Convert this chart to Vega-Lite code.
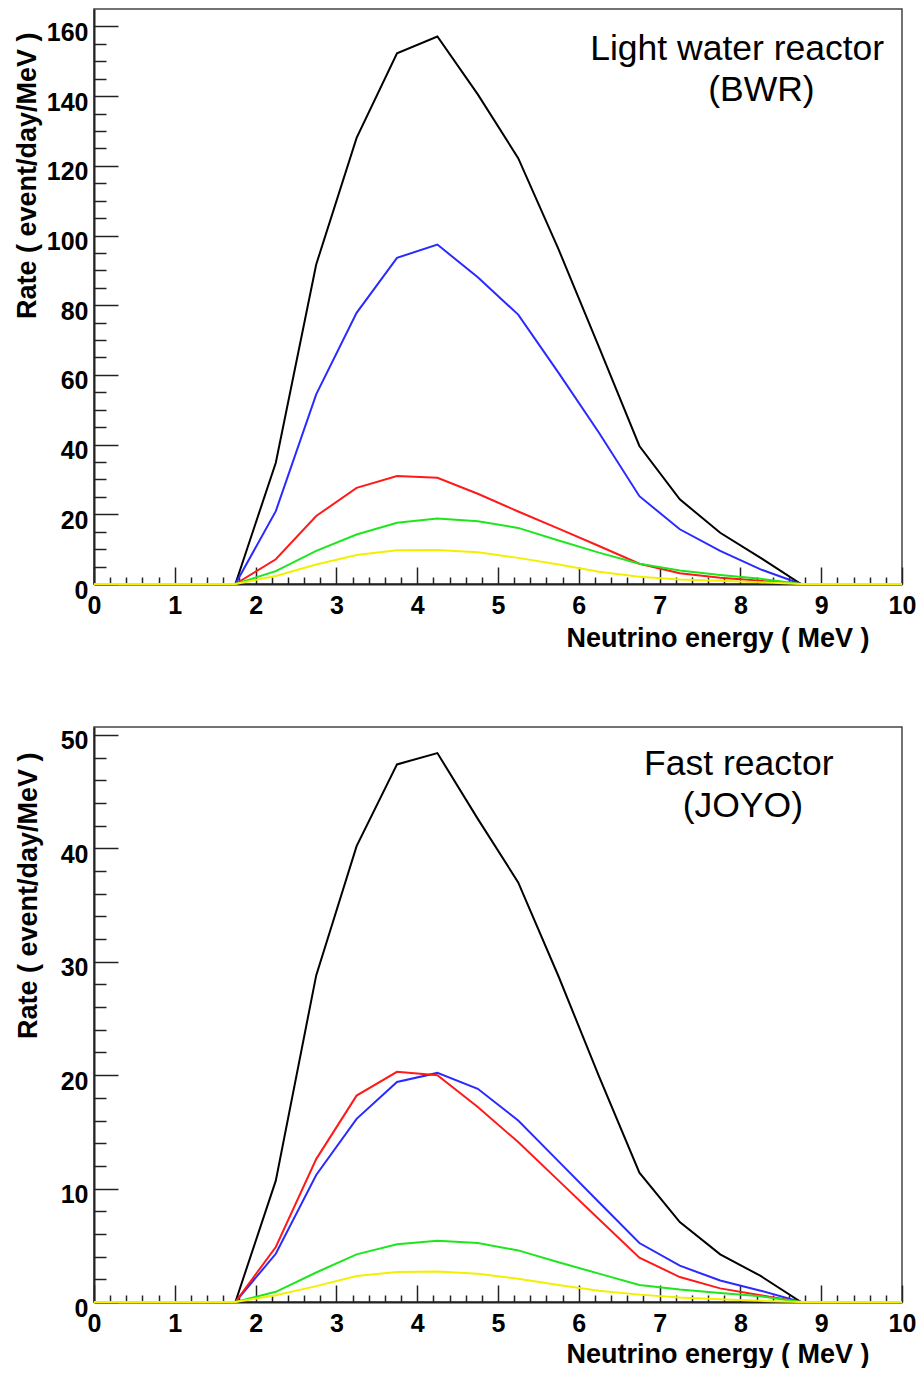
{
  "$schema": "https://vega.github.io/schema/vega-lite/v6.json",
  "background": "white",
  "padding": {"left": 12, "top": 8, "right": 5, "bottom": 0},
  "spacing": 74,
  "config": {
    "view": {"stroke": "#444", "strokeWidth": 1.5},
    "font": "Liberation Sans",
    "axis": {"grid": false}
  },
  "datasets": {
    "rates": [
      {"reactor":"BWR","series":"Total","energy":0,"rate":0},
      {"reactor":"BWR","series":"Total","energy":1.75,"rate":0},
      {"reactor":"BWR","series":"Total","energy":2.25,"rate":34.8},
      {"reactor":"BWR","series":"Total","energy":2.75,"rate":91.7},
      {"reactor":"BWR","series":"Total","energy":3.25,"rate":128},
      {"reactor":"BWR","series":"Total","energy":3.75,"rate":152.3},
      {"reactor":"BWR","series":"Total","energy":4.25,"rate":157.1},
      {"reactor":"BWR","series":"Total","energy":4.75,"rate":140.5},
      {"reactor":"BWR","series":"Total","energy":5.25,"rate":122.2},
      {"reactor":"BWR","series":"Total","energy":5.75,"rate":96},
      {"reactor":"BWR","series":"Total","energy":6.25,"rate":68},
      {"reactor":"BWR","series":"Total","energy":6.75,"rate":39.6},
      {"reactor":"BWR","series":"Total","energy":7.25,"rate":24.3},
      {"reactor":"BWR","series":"Total","energy":7.75,"rate":14.7},
      {"reactor":"BWR","series":"Total","energy":8.25,"rate":7.5},
      {"reactor":"BWR","series":"Total","energy":8.75,"rate":0},
      {"reactor":"BWR","series":"Total","energy":10,"rate":0},
      {"reactor":"BWR","series":"U-235","energy":0,"rate":0},
      {"reactor":"BWR","series":"U-235","energy":1.75,"rate":0},
      {"reactor":"BWR","series":"U-235","energy":2.25,"rate":20.9},
      {"reactor":"BWR","series":"U-235","energy":2.75,"rate":54.4},
      {"reactor":"BWR","series":"U-235","energy":3.25,"rate":77.8},
      {"reactor":"BWR","series":"U-235","energy":3.75,"rate":93.6},
      {"reactor":"BWR","series":"U-235","energy":4.25,"rate":97.4},
      {"reactor":"BWR","series":"U-235","energy":4.75,"rate":88},
      {"reactor":"BWR","series":"U-235","energy":5.25,"rate":77.3},
      {"reactor":"BWR","series":"U-235","energy":5.75,"rate":60.6},
      {"reactor":"BWR","series":"U-235","energy":6.25,"rate":43.4},
      {"reactor":"BWR","series":"U-235","energy":6.75,"rate":25.2},
      {"reactor":"BWR","series":"U-235","energy":7.25,"rate":15.7},
      {"reactor":"BWR","series":"U-235","energy":7.75,"rate":9.5},
      {"reactor":"BWR","series":"U-235","energy":8.25,"rate":4.2},
      {"reactor":"BWR","series":"U-235","energy":8.75,"rate":0},
      {"reactor":"BWR","series":"U-235","energy":10,"rate":0},
      {"reactor":"BWR","series":"Pu-239","energy":0,"rate":0},
      {"reactor":"BWR","series":"Pu-239","energy":1.75,"rate":0},
      {"reactor":"BWR","series":"Pu-239","energy":2.25,"rate":7.1},
      {"reactor":"BWR","series":"Pu-239","energy":2.75,"rate":19.5},
      {"reactor":"BWR","series":"Pu-239","energy":3.25,"rate":27.6},
      {"reactor":"BWR","series":"Pu-239","energy":3.75,"rate":31.0},
      {"reactor":"BWR","series":"Pu-239","energy":4.25,"rate":30.5},
      {"reactor":"BWR","series":"Pu-239","energy":4.75,"rate":25.9},
      {"reactor":"BWR","series":"Pu-239","energy":5.25,"rate":20.8},
      {"reactor":"BWR","series":"Pu-239","energy":5.75,"rate":15.9},
      {"reactor":"BWR","series":"Pu-239","energy":6.25,"rate":10.9},
      {"reactor":"BWR","series":"Pu-239","energy":6.75,"rate":5.8},
      {"reactor":"BWR","series":"Pu-239","energy":7.25,"rate":3.1},
      {"reactor":"BWR","series":"Pu-239","energy":7.75,"rate":1.8},
      {"reactor":"BWR","series":"Pu-239","energy":8.25,"rate":0.9},
      {"reactor":"BWR","series":"Pu-239","energy":8.75,"rate":0},
      {"reactor":"BWR","series":"Pu-239","energy":10,"rate":0},
      {"reactor":"BWR","series":"U-238","energy":0,"rate":0},
      {"reactor":"BWR","series":"U-238","energy":1.75,"rate":0},
      {"reactor":"BWR","series":"U-238","energy":2.25,"rate":3.7},
      {"reactor":"BWR","series":"U-238","energy":2.75,"rate":9.5},
      {"reactor":"BWR","series":"U-238","energy":3.25,"rate":14.2},
      {"reactor":"BWR","series":"U-238","energy":3.75,"rate":17.6},
      {"reactor":"BWR","series":"U-238","energy":4.25,"rate":18.8},
      {"reactor":"BWR","series":"U-238","energy":4.75,"rate":18.0},
      {"reactor":"BWR","series":"U-238","energy":5.25,"rate":16.1},
      {"reactor":"BWR","series":"U-238","energy":5.75,"rate":12.5},
      {"reactor":"BWR","series":"U-238","energy":6.25,"rate":9.0},
      {"reactor":"BWR","series":"U-238","energy":6.75,"rate":5.8},
      {"reactor":"BWR","series":"U-238","energy":7.25,"rate":3.9},
      {"reactor":"BWR","series":"U-238","energy":7.75,"rate":2.6},
      {"reactor":"BWR","series":"U-238","energy":8.25,"rate":1.5},
      {"reactor":"BWR","series":"U-238","energy":8.75,"rate":0},
      {"reactor":"BWR","series":"U-238","energy":10,"rate":0},
      {"reactor":"BWR","series":"Pu-241","energy":0,"rate":0},
      {"reactor":"BWR","series":"Pu-241","energy":1.75,"rate":0},
      {"reactor":"BWR","series":"Pu-241","energy":2.25,"rate":2.3},
      {"reactor":"BWR","series":"Pu-241","energy":2.75,"rate":5.6},
      {"reactor":"BWR","series":"Pu-241","energy":3.25,"rate":8.3},
      {"reactor":"BWR","series":"Pu-241","energy":3.75,"rate":9.7},
      {"reactor":"BWR","series":"Pu-241","energy":4.25,"rate":9.75},
      {"reactor":"BWR","series":"Pu-241","energy":4.75,"rate":9.1},
      {"reactor":"BWR","series":"Pu-241","energy":5.25,"rate":7.5},
      {"reactor":"BWR","series":"Pu-241","energy":5.75,"rate":5.6},
      {"reactor":"BWR","series":"Pu-241","energy":6.25,"rate":3.5},
      {"reactor":"BWR","series":"Pu-241","energy":6.75,"rate":2.1},
      {"reactor":"BWR","series":"Pu-241","energy":7.25,"rate":1.3},
      {"reactor":"BWR","series":"Pu-241","energy":7.75,"rate":0.9},
      {"reactor":"BWR","series":"Pu-241","energy":8.25,"rate":0.5},
      {"reactor":"BWR","series":"Pu-241","energy":8.75,"rate":0},
      {"reactor":"BWR","series":"Pu-241","energy":10,"rate":0},
      {"reactor":"JOYO","series":"Total","energy":0,"rate":0},
      {"reactor":"JOYO","series":"Total","energy":1.75,"rate":0},
      {"reactor":"JOYO","series":"Total","energy":2.25,"rate":10.7},
      {"reactor":"JOYO","series":"Total","energy":2.75,"rate":28.8},
      {"reactor":"JOYO","series":"Total","energy":3.25,"rate":40.2},
      {"reactor":"JOYO","series":"Total","energy":3.75,"rate":47.4},
      {"reactor":"JOYO","series":"Total","energy":4.25,"rate":48.4},
      {"reactor":"JOYO","series":"Total","energy":4.75,"rate":42.6},
      {"reactor":"JOYO","series":"Total","energy":5.25,"rate":37.0},
      {"reactor":"JOYO","series":"Total","energy":5.75,"rate":28.7},
      {"reactor":"JOYO","series":"Total","energy":6.25,"rate":19.9},
      {"reactor":"JOYO","series":"Total","energy":6.75,"rate":11.4},
      {"reactor":"JOYO","series":"Total","energy":7.25,"rate":7.05},
      {"reactor":"JOYO","series":"Total","energy":7.75,"rate":4.2},
      {"reactor":"JOYO","series":"Total","energy":8.25,"rate":2.3},
      {"reactor":"JOYO","series":"Total","energy":8.75,"rate":0},
      {"reactor":"JOYO","series":"Total","energy":10,"rate":0},
      {"reactor":"JOYO","series":"U-235","energy":0,"rate":0},
      {"reactor":"JOYO","series":"U-235","energy":1.75,"rate":0},
      {"reactor":"JOYO","series":"U-235","energy":2.25,"rate":4.25},
      {"reactor":"JOYO","series":"U-235","energy":2.75,"rate":11.2},
      {"reactor":"JOYO","series":"U-235","energy":3.25,"rate":16.15},
      {"reactor":"JOYO","series":"U-235","energy":3.75,"rate":19.4},
      {"reactor":"JOYO","series":"U-235","energy":4.25,"rate":20.2},
      {"reactor":"JOYO","series":"U-235","energy":4.75,"rate":18.8},
      {"reactor":"JOYO","series":"U-235","energy":5.25,"rate":16.0},
      {"reactor":"JOYO","series":"U-235","energy":5.75,"rate":12.4},
      {"reactor":"JOYO","series":"U-235","energy":6.25,"rate":8.8},
      {"reactor":"JOYO","series":"U-235","energy":6.75,"rate":5.2},
      {"reactor":"JOYO","series":"U-235","energy":7.25,"rate":3.2},
      {"reactor":"JOYO","series":"U-235","energy":7.75,"rate":1.9},
      {"reactor":"JOYO","series":"U-235","energy":8.25,"rate":1.0},
      {"reactor":"JOYO","series":"U-235","energy":8.75,"rate":0},
      {"reactor":"JOYO","series":"U-235","energy":10,"rate":0},
      {"reactor":"JOYO","series":"Pu-239","energy":0,"rate":0},
      {"reactor":"JOYO","series":"Pu-239","energy":1.75,"rate":0},
      {"reactor":"JOYO","series":"Pu-239","energy":2.25,"rate":4.85},
      {"reactor":"JOYO","series":"Pu-239","energy":2.75,"rate":12.6},
      {"reactor":"JOYO","series":"Pu-239","energy":3.25,"rate":18.2},
      {"reactor":"JOYO","series":"Pu-239","energy":3.75,"rate":20.3},
      {"reactor":"JOYO","series":"Pu-239","energy":4.25,"rate":20.0},
      {"reactor":"JOYO","series":"Pu-239","energy":4.75,"rate":17.2},
      {"reactor":"JOYO","series":"Pu-239","energy":5.25,"rate":14.1},
      {"reactor":"JOYO","series":"Pu-239","energy":5.75,"rate":10.7},
      {"reactor":"JOYO","series":"Pu-239","energy":6.25,"rate":7.3},
      {"reactor":"JOYO","series":"Pu-239","energy":6.75,"rate":3.9},
      {"reactor":"JOYO","series":"Pu-239","energy":7.25,"rate":2.2},
      {"reactor":"JOYO","series":"Pu-239","energy":7.75,"rate":1.2},
      {"reactor":"JOYO","series":"Pu-239","energy":8.25,"rate":0.6},
      {"reactor":"JOYO","series":"Pu-239","energy":8.75,"rate":0},
      {"reactor":"JOYO","series":"Pu-239","energy":10,"rate":0},
      {"reactor":"JOYO","series":"U-238","energy":0,"rate":0},
      {"reactor":"JOYO","series":"U-238","energy":1.75,"rate":0},
      {"reactor":"JOYO","series":"U-238","energy":2.25,"rate":0.9},
      {"reactor":"JOYO","series":"U-238","energy":2.75,"rate":2.6},
      {"reactor":"JOYO","series":"U-238","energy":3.25,"rate":4.2},
      {"reactor":"JOYO","series":"U-238","energy":3.75,"rate":5.1},
      {"reactor":"JOYO","series":"U-238","energy":4.25,"rate":5.4},
      {"reactor":"JOYO","series":"U-238","energy":4.75,"rate":5.2},
      {"reactor":"JOYO","series":"U-238","energy":5.25,"rate":4.55},
      {"reactor":"JOYO","series":"U-238","energy":5.75,"rate":3.5},
      {"reactor":"JOYO","series":"U-238","energy":6.25,"rate":2.5},
      {"reactor":"JOYO","series":"U-238","energy":6.75,"rate":1.5},
      {"reactor":"JOYO","series":"U-238","energy":7.25,"rate":1.1},
      {"reactor":"JOYO","series":"U-238","energy":7.75,"rate":0.8},
      {"reactor":"JOYO","series":"U-238","energy":8.25,"rate":0.5},
      {"reactor":"JOYO","series":"U-238","energy":8.75,"rate":0},
      {"reactor":"JOYO","series":"U-238","energy":10,"rate":0},
      {"reactor":"JOYO","series":"Pu-241","energy":0,"rate":0},
      {"reactor":"JOYO","series":"Pu-241","energy":1.75,"rate":0},
      {"reactor":"JOYO","series":"Pu-241","energy":2.25,"rate":0.6},
      {"reactor":"JOYO","series":"Pu-241","energy":2.75,"rate":1.4},
      {"reactor":"JOYO","series":"Pu-241","energy":3.25,"rate":2.3},
      {"reactor":"JOYO","series":"Pu-241","energy":3.75,"rate":2.65},
      {"reactor":"JOYO","series":"Pu-241","energy":4.25,"rate":2.7},
      {"reactor":"JOYO","series":"Pu-241","energy":4.75,"rate":2.5},
      {"reactor":"JOYO","series":"Pu-241","energy":5.25,"rate":2.05},
      {"reactor":"JOYO","series":"Pu-241","energy":5.75,"rate":1.5},
      {"reactor":"JOYO","series":"Pu-241","energy":6.25,"rate":1.0},
      {"reactor":"JOYO","series":"Pu-241","energy":6.75,"rate":0.65},
      {"reactor":"JOYO","series":"Pu-241","energy":7.25,"rate":0.4},
      {"reactor":"JOYO","series":"Pu-241","energy":7.75,"rate":0.25},
      {"reactor":"JOYO","series":"Pu-241","energy":8.25,"rate":0.1},
      {"reactor":"JOYO","series":"Pu-241","energy":8.75,"rate":0},
      {"reactor":"JOYO","series":"Pu-241","energy":10,"rate":0}
    ]
  },
  "vconcat": [
    {
      "width": 808,
      "height": 575,
      "layer": [
        {
          "data": {"name": "rates"},
          "transform": [{"filter": "datum.reactor === 'BWR'"}],
          "mark": {"type": "line", "strokeWidth": 2},
          "encoding": {
            "x": {"field": "energy", "type": "quantitative", "scale": {"domain": [0, 10], "nice": false},
              "axis": {"orient": "bottom", "values": [0,1,2,3,4,5,6,7,8,9,10], "format": "d", "tickSize": -17, "tickWidth": 1.5, "tickColor": "#222", "domainColor": "#222", "domainWidth": 2,
                "labelFont": "Liberation Sans", "labelFontSize": 25, "labelFontWeight": "bold", "labelColor": "#000", "labelPadding": 26, "labelFlush": false, "labelOverlap": false,
                "title": "Neutrino energy ( MeV )", "titleFont": "Liberation Sans", "titleFontSize": 27, "titleFontWeight": "bold", "titleColor": "#000", "titleAlign": "right", "titleBaseline": "alphabetic", "titleX": 775, "titleY": 62}},
            "y": {"field": "rate", "type": "quantitative", "scale": {"domain": [0, 165], "nice": false},
              "axis": {"orient": "left", "values": [0,20,40,60,80,100,120,140,160], "format": "d", "tickSize": -24, "tickWidth": 1.5, "tickColor": "#222", "domainColor": "#222", "domainWidth": 2,
                "labelFont": "Liberation Sans", "labelFontSize": 25, "labelFontWeight": "bold", "labelColor": "#000", "labelPadding": 30, "labelOffset": 6, "labelFlush": false, "labelOverlap": false,
                "title": "Rate ( event/day/MeV )", "titleFont": "Liberation Sans", "titleFontSize": 27, "titleFontWeight": "bold", "titleColor": "#000", "titleAngle": 270, "titleAlign": "right", "titleBaseline": "alphabetic", "titleX": -59, "titleY": 23}},
            "color": {"field": "series", "type": "nominal", "scale": {"domain": ["Total", "U-235", "Pu-239", "U-238", "Pu-241"], "range": ["#000000", "#2a2aff", "#ff1a1a", "#1ee61e", "#f2f000"]}, "legend": null}
          }
        },
        {
          "data": {"values": [{"label": "Light water reactor"}]},
          "mark": {"type": "text", "font": "Liberation Sans", "fontSize": 35.5, "align": "center", "baseline": "alphabetic", "color": "#000"},
          "encoding": {
            "x": {"datum": 7.96, "type": "quantitative", "axis": {"orient": "bottom", "values": [0.2,0.4,0.6,0.8,1.2,1.4,1.6,1.8,2.2,2.4,2.6,2.8,3.2,3.4,3.6,3.8,4.2,4.4,4.6,4.8,5.2,5.4,5.6,5.8,6.2,6.4,6.6,6.8,7.2,7.4,7.6,7.8,8.2,8.4,8.6,8.8,9.2,9.4,9.6,9.8], "tickSize": -7, "tickWidth": 1.5, "tickColor": "#222", "labels": false, "domain": false, "title": null}},
            "y": {"datum": 150.5, "type": "quantitative", "axis": {"orient": "left", "values": [5,10,15,25,30,35,45,50,55,65,70,75,85,90,95,105,110,115,125,130,135,145,150,155], "tickSize": -12, "tickWidth": 1.5, "tickColor": "#222", "labels": false, "domain": false, "title": null}},
            "text": {"field": "label"}
          }
        },
        {
          "data": {"values": [{"label": "(BWR)"}]},
          "mark": {"type": "text", "font": "Liberation Sans", "fontSize": 35.5, "align": "center", "baseline": "alphabetic", "color": "#000"},
          "encoding": {
            "x": {"datum": 8.26, "type": "quantitative", "axis": null},
            "y": {"datum": 138.5, "type": "quantitative", "axis": null},
            "text": {"field": "label"}
          }
        }
      ],
      "resolve": {"axis": {"x": "independent", "y": "independent"}}
    },
    {
      "width": 808,
      "height": 575,
      "layer": [
        {
          "data": {"name": "rates"},
          "transform": [{"filter": "datum.reactor === 'JOYO'"}],
          "mark": {"type": "line", "strokeWidth": 2},
          "encoding": {
            "x": {"field": "energy", "type": "quantitative", "scale": {"domain": [0, 10], "nice": false},
              "axis": {"orient": "bottom", "values": [0,1,2,3,4,5,6,7,8,9,10], "format": "d", "tickSize": -17, "tickWidth": 1.5, "tickColor": "#222", "domainColor": "#222", "domainWidth": 2,
                "labelFont": "Liberation Sans", "labelFontSize": 25, "labelFontWeight": "bold", "labelColor": "#000", "labelPadding": 26, "labelFlush": false, "labelOverlap": false,
                "title": "Neutrino energy ( MeV )", "titleFont": "Liberation Sans", "titleFontSize": 27, "titleFontWeight": "bold", "titleColor": "#000", "titleAlign": "right", "titleBaseline": "alphabetic", "titleX": 775, "titleY": 60}},
            "y": {"field": "rate", "type": "quantitative", "scale": {"domain": [0, 50.7], "nice": false},
              "axis": {"orient": "left", "values": [0,10,20,30,40,50], "format": "d", "tickSize": -24, "tickWidth": 1.5, "tickColor": "#222", "domainColor": "#222", "domainWidth": 2,
                "labelFont": "Liberation Sans", "labelFontSize": 25, "labelFontWeight": "bold", "labelColor": "#000", "labelPadding": 30, "labelOffset": 6, "labelFlush": false, "labelOverlap": false,
                "title": "Rate ( event/day/MeV )", "titleFont": "Liberation Sans", "titleFontSize": 27, "titleFontWeight": "bold", "titleColor": "#000", "titleAngle": 270, "titleAlign": "right", "titleBaseline": "alphabetic", "titleX": -58, "titleY": 25}},
            "color": {"field": "series", "type": "nominal", "scale": {"domain": ["Total", "U-235", "Pu-239", "U-238", "Pu-241"], "range": ["#000000", "#2a2aff", "#ff1a1a", "#1ee61e", "#f2f000"]}, "legend": null}
          }
        },
        {
          "data": {"values": [{"label": "Fast reactor"}]},
          "mark": {"type": "text", "font": "Liberation Sans", "fontSize": 35.5, "align": "center", "baseline": "alphabetic", "color": "#000"},
          "encoding": {
            "x": {"datum": 7.98, "type": "quantitative", "axis": {"orient": "bottom", "values": [0.2,0.4,0.6,0.8,1.2,1.4,1.6,1.8,2.2,2.4,2.6,2.8,3.2,3.4,3.6,3.8,4.2,4.4,4.6,4.8,5.2,5.4,5.6,5.8,6.2,6.4,6.6,6.8,7.2,7.4,7.6,7.8,8.2,8.4,8.6,8.8,9.2,9.4,9.6,9.8], "tickSize": -7, "tickWidth": 1.5, "tickColor": "#222", "labels": false, "domain": false, "title": null}},
            "y": {"datum": 46.46, "type": "quantitative", "axis": {"orient": "left", "values": [2,4,6,8,12,14,16,18,22,24,26,28,32,34,36,38,42,44,46,48], "tickSize": -12, "tickWidth": 1.5, "tickColor": "#222", "labels": false, "domain": false, "title": null}},
            "text": {"field": "label"}
          }
        },
        {
          "data": {"values": [{"label": "(JOYO)"}]},
          "mark": {"type": "text", "font": "Liberation Sans", "fontSize": 35.5, "align": "center", "baseline": "alphabetic", "color": "#000"},
          "encoding": {
            "x": {"datum": 8.03, "type": "quantitative", "axis": null},
            "y": {"datum": 42.8, "type": "quantitative", "axis": null},
            "text": {"field": "label"}
          }
        }
      ],
      "resolve": {"axis": {"x": "independent", "y": "independent"}}
    }
  ]
}
